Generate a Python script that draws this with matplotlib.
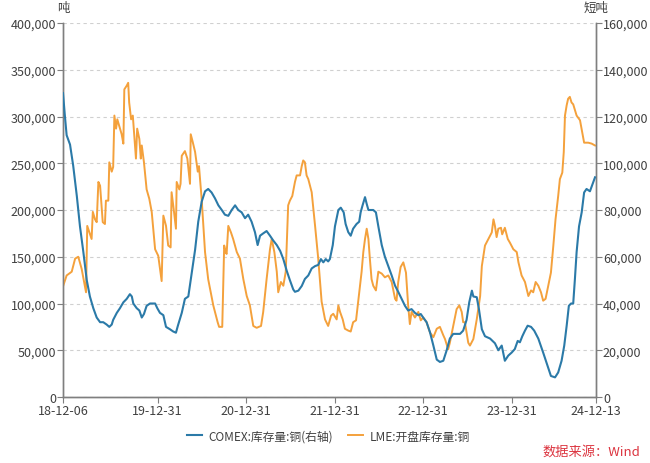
import matplotlib
matplotlib.use("Agg")
import matplotlib.pyplot as plt
import matplotlib.ticker as mticker
import pandas as pd
import numpy as np

plt.rcParams['font.family'] = ['Noto Sans CJK SC', 'DejaVu Sans']

start_date = "2018-12-06"
end_date = "2024-12-13"

# LME open-stock copper (tonnes), day offset from start
lme_days = [1, 15, 36, 50, 63, 77, 95, 100, 118, 123, 132, 139, 146, 153, 164, 173, 177, 187,
            191, 201, 207, 212, 219, 224, 232, 242, 249, 253, 263, 269, 273, 281, 288, 293, 301,
            306, 315, 321, 325, 334, 345, 356, 366, 380, 393, 407, 414, 425, 434, 444, 448, 458,
            466, 469, 480, 485, 490, 503, 513, 524, 527, 535, 545, 556, 561, 572, 586, 599, 620,
            638, 644, 657, 665, 671, 675, 682, 693, 702, 717, 730, 744, 758, 771, 785, 799, 817,
            826, 840, 854, 861, 872, 882, 888, 899, 909, 919, 929, 936, 946, 957, 964, 978, 985,
            991, 998, 1005, 1012, 1019, 1026, 1040, 1053, 1067, 1081, 1094, 1106, 1115, 1129,
            1136, 1143, 1154, 1163, 1177, 1187, 1197, 1209, 1218, 1232, 1239, 1246, 1253, 1260,
            1266, 1273, 1280, 1291, 1301, 1315, 1328, 1342, 1356, 1370, 1376, 1383, 1393, 1404,
            1415, 1424, 1431, 1438, 1452, 1466, 1476, 1486, 1500, 1514, 1528, 1542, 1555, 1569,
            1576, 1589, 1596, 1610, 1624, 1635, 1645, 1651, 1658, 1665, 1672, 1679, 1693, 1707,
            1721, 1728, 1741, 1755, 1769, 1776, 1782, 1789, 1796, 1807, 1812, 1823, 1835, 1844,
            1858, 1872, 1879, 1892, 1906, 1920, 1931, 1940, 1950, 1961, 1972, 1981, 1991, 2002,
            2013, 2023, 2032, 2043, 2050, 2060, 2066, 2071, 2078, 2084, 2091, 2098, 2105, 2119,
            2133, 2142, 2150, 2167, 2181, 2195]
lme_values = [119, 130, 134, 148, 150, 137, 112, 183, 169, 198, 190, 187, 230, 226, 187, 185, 210, 210,
              251, 241, 246, 301, 287, 297, 290, 281, 271, 329, 333, 336, 315, 297, 301, 283, 255,
              287, 276, 255, 269, 251, 222, 212, 198, 158, 151, 124, 194, 183, 162, 160, 219, 198,
              180, 230, 222, 228, 258, 263, 255, 228, 281, 273, 262, 241, 247, 212, 155, 126, 98,
              80, 75, 75, 162, 155, 153, 183, 176, 169, 155, 148, 126, 108, 98, 76, 74, 76,
              91, 126, 158, 169, 155, 134, 112, 123, 119, 134, 205, 210, 215, 230, 237, 237, 247,
              253, 251, 237, 233, 226, 219, 183, 148, 102, 83, 76, 87, 89, 83,
              98, 91, 83, 73, 71, 70, 80, 82, 102, 134, 155, 169, 180, 169,
              148, 126, 119, 114, 134, 132, 128, 130, 123, 105, 103, 123, 139, 144,
              133, 98, 78, 91, 85, 91, 82, 85, 80, 69, 64, 73, 75, 66,
              62, 51, 58, 76, 94, 98, 91, 80, 80, 69, 58, 55, 62, 83,
              108, 140, 162, 169, 176, 190, 183, 171, 180, 181, 174, 181, 169, 165,
              158, 155, 144, 130, 123, 108, 114, 112, 123, 119, 112, 103, 105, 119,
              133, 162, 190, 215, 233, 240, 262, 301, 312, 319, 321, 315, 313, 301,
              296, 283, 272, 272, 271, 269]

# COMEX copper stock (short tons), day offset from start
comex_days = [0, 8, 15, 29, 42, 57, 70, 84, 98, 111, 125, 139, 153, 166, 180, 191, 201, 207, 222,
              235, 249, 263, 276, 284, 290, 304, 315, 325, 334, 345, 359, 380, 389, 400, 414, 425,
              441, 455, 466, 474, 490, 503, 517, 531, 545, 558, 572, 586, 599, 613, 627, 641, 655,
              668, 682, 696, 710, 723, 737, 751, 764, 778, 792, 803, 813, 826, 840, 854, 867, 882,
              896, 909, 923, 936, 950, 957, 971, 985, 998, 1012, 1026, 1040, 1053, 1064, 1074,
              1084, 1094, 1101, 1113, 1122, 1136, 1146, 1158, 1166, 1177, 1187, 1197, 1211, 1222,
              1228, 1236, 1246, 1253, 1260, 1270, 1280, 1291, 1301, 1315, 1328, 1342, 1356, 1370,
              1383, 1397, 1411, 1424, 1438, 1452, 1466, 1476, 1486, 1500, 1514, 1528, 1542, 1555,
              1569, 1583, 1596, 1610, 1624, 1638, 1651, 1665, 1676, 1687, 1693, 1707, 1716, 1728,
              1741, 1762, 1782, 1796, 1810, 1823, 1837, 1851, 1864, 1876, 1885, 1895, 1906, 1917,
              1931, 1944, 1961, 1981, 1999, 2013, 2030, 2043, 2057, 2068, 2078, 2087, 2096, 2105,
              2112, 2119, 2129, 2140, 2150, 2160, 2174, 2181, 2195]
comex_values = [130, 120, 112, 108, 99, 86, 73, 62, 50, 43, 38, 34, 32, 32, 31, 30, 31, 33, 36,
                38, 40.5, 42, 44, 43, 40, 38, 37, 34, 35.5, 39, 40, 40, 38, 36, 35, 30,
                29, 28, 27.5, 30.5, 36, 42, 43, 53, 63, 75, 83.5, 88, 89, 87.5, 85, 82, 80,
                78, 77.5, 80, 82, 80, 79, 76.5, 78, 75, 70.5, 65, 69, 70, 71, 69, 67, 65,
                62.5, 59, 54, 50, 46, 45, 45.5, 47.5, 50.5, 52, 55, 56, 56.5, 59, 57.6,
                59, 58, 59, 65, 73, 80, 81, 79, 74, 70.5, 69, 72, 74, 75,
                79, 82, 85.5, 82.6, 80, 80, 80, 79, 73, 65, 60, 56, 52, 47.6,
                45, 42, 39, 37, 37.6, 36, 35, 35.5, 34, 32, 27.7, 22, 16, 15,
                15.5, 20, 25, 27, 27, 27, 28.4, 33, 40.5, 45.5, 43, 42.7, 37.6, 29,
                26, 25, 23, 20, 22, 15.5, 17.7, 19, 20.5, 24, 23.4, 26, 28.4, 30.5,
                30, 28.4, 25, 19, 13.4, 9, 8.4, 10.5, 15.5, 22, 30.5, 39, 40, 40,
                50.5, 62, 73, 79, 87.5, 89, 88, 90, 94]

tick_dates = ["2018-12-06", "2019-12-31", "2020-12-31", "2021-12-31", "2022-12-31", "2023-12-31", "2024-12-13"]
tick_labels = ["18-12-06", "19-12-31", "20-12-31", "21-12-31", "22-12-31", "23-12-31", "24-12-13"]

legend_labels = ["COMEX:库存量:铜(右轴)", "LME:开盘库存量:铜"]

t0 = pd.Timestamp(start_date)
lme_x = t0 + pd.to_timedelta(lme_days, unit="D")
comex_x = t0 + pd.to_timedelta(comex_days, unit="D")
lme_y = np.array(lme_values) * 1000
comex_y = np.array(comex_values) * 1000

blue = "#2b7aa8"
orange = "#f4a13c"
axcol = "#7f7f7f"
txtcol = "#404040"

fig = plt.figure(figsize=(6.5, 4.64), dpi=100)
ax = fig.add_axes([63/650, 1-398/464, (596-63)/650, (398-24)/464])
ax2 = ax.twinx()

l2, = ax.plot(lme_x, lme_y, color=orange, lw=1.4, zorder=3)
l1, = ax2.plot(comex_x, comex_y, color=blue, lw=1.5, zorder=3)

ax.set_ylim(0, 400000)
ax2.set_ylim(0, 160000)
ax.set_xlim(pd.Timestamp(start_date), pd.Timestamp(end_date))
ax.yaxis.set_major_locator(mticker.MultipleLocator(50000))
ax2.yaxis.set_major_locator(mticker.MultipleLocator(20000))
fmt = mticker.FuncFormatter(lambda v, p: f"{int(v):,}")
ax.yaxis.set_major_formatter(fmt)
ax2.yaxis.set_major_formatter(fmt)

ax.set_xticks([pd.Timestamp(d) for d in tick_dates])
ax.set_xticklabels(tick_labels)

ax.grid(axis="y", color="#d0d0d0", ls=(0, (3, 3)), lw=0.8)
ax.set_axisbelow(True)

for a in (ax, ax2):
    a.spines["top"].set_visible(False)
    for s in ("left", "right", "bottom"):
        a.spines[s].set_color(axcol)
        a.spines[s].set_linewidth(1.0)
    a.tick_params(colors=axcol, labelcolor=txtcol, labelsize=9, length=4, width=0.8, pad=1)

ax.text(0, 1.025, "吨", transform=ax.transAxes, ha="center", va="bottom", fontsize=9, color=txtcol)
ax2.text(1, 1.025, "短吨", transform=ax2.transAxes, ha="center", va="bottom", fontsize=9, color=txtcol)

fig.legend([l1, l2], legend_labels, loc="center", bbox_to_anchor=(0.505, 1-437/464), ncol=2,
           frameon=False, fontsize=8.5, handlelength=1.3, columnspacing=1.3, handletextpad=0.5,
           labelcolor=txtcol)

fig.text(640/650, 1-452/464, "数据来源：Wind", ha="right", va="center", fontsize=9.5, color="#dc3540")

fig.savefig("out.png", dpi=100)
